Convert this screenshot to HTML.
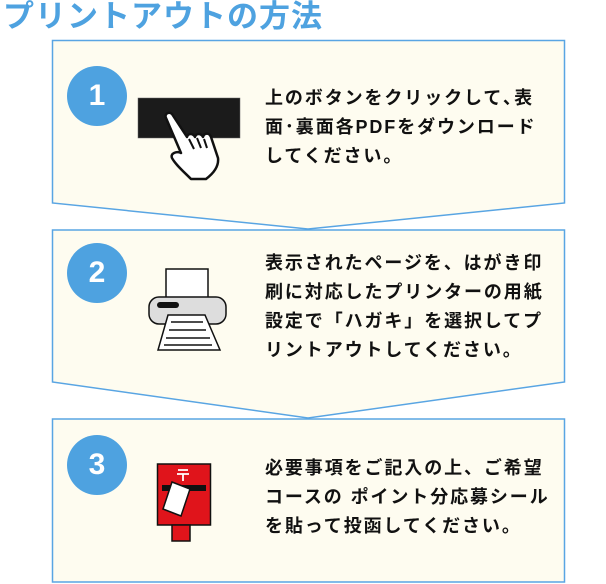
<!DOCTYPE html>
<html><head><meta charset="utf-8"><style>
body{margin:0;width:606px;height:584px;background:#fff;position:relative;overflow:hidden;font-family:"Liberation Sans","Noto Sans CJK JP",sans-serif;}
h1{position:absolute;left:3px;top:-1px;margin:0;font-size:31px;line-height:36px;color:#4ea2e0;font-weight:bold;letter-spacing:1px}
.t{position:absolute;left:265px;font-size:18px;font-weight:bold;color:#111;line-height:29px;letter-spacing:1.9px;white-space:nowrap}
.c{position:absolute;width:60px;height:60px;border-radius:50%;background:#4ea2e0;color:#fff;font-size:30px;font-weight:bold;text-align:center;line-height:60px;left:67px}
</style></head><body>
<h1>プリントアウトの方法</h1>
<svg width="606" height="584" style="position:absolute;left:0;top:0">
<g fill="#fefcf0" stroke="#59a5e3" stroke-width="1.5">
<polygon points="52.5,40.5 564.5,40.5 564.5,203 308,229 52.5,203"/>
<polygon points="52.5,230 564.5,230 564.5,382 308,418 52.5,382"/>
<rect x="52.5" y="419" width="512" height="163"/>
</g>
<rect x="138" y="98" width="102" height="40" fill="#1b1b1b" stroke="#666" stroke-width="0.5"/>
<path d="M172,114 c-3,-3 -8,0 -6,4 l15,35 c-4,-2 -11,0 -9,5 c3,6 11,13 19,21 l15,0 c8,-6 13,-13 12,-21 l-7,-21 c-2,-5 -7,-4 -8,0 c-2,-4 -7,-4 -8,0 c-2,-4 -7,-4 -8,0 z" fill="#fff" stroke="#111" stroke-width="2.5" stroke-linejoin="round"/>
<path d="M189,139 l5,10 M197,138 l4,10 M204,139 l3,9" stroke="#111" stroke-width="2" fill="none"/>
<rect x="166" y="269" width="42" height="30" fill="#fff" stroke="#111" stroke-width="1.5"/>
<rect x="149" y="297" width="77" height="27" rx="10" fill="#ddd" stroke="#111" stroke-width="1.5"/>
<rect x="157" y="302" width="22" height="6" rx="3" fill="#111"/>
<polygon points="168,315 205,315 220,350 158,350" fill="#fff" stroke="#111" stroke-width="1.5"/>
<path d="M171,322h32M169,330h37M166,338h44M164,345h48" stroke="#111" stroke-width="1.5"/>
<rect x="157.5" y="464" width="53" height="61" fill="#e0141b" stroke="#111" stroke-width="1.5"/>
<rect x="172" y="525" width="18" height="16" fill="#e0141b" stroke="#111" stroke-width="1.5"/>
<path d="M178,470h10M177,474h12M183,474v7" stroke="#fff" stroke-width="1.8"/>
<rect x="162" y="485" width="44" height="6" fill="#111"/>
<polygon points="172,482 190,489 181,516 163,509" fill="#fff" stroke="#111" stroke-width="1.5"/>
</svg>
<div class="c" style="top:66px">1</div>
<div class="c" style="top:243px">2</div>
<div class="c" style="top:435px">3</div>
<div class="t" style="top:84px">上のボタンをクリックして､表<br>面･裏面各PDFをダウンロード<br>してください。</div>
<div class="t" style="top:249px">表示されたページを、はがき印<br>刷に対応したプリンターの用紙<br>設定で「ハガキ」を選択してプ<br>リントアウトしてください。</div>
<div class="t" style="top:454px">必要事項をご記入の上、ご希望<br>コースの ポイント分応募シール<br>を貼って投函してください。</div>
</body></html>
